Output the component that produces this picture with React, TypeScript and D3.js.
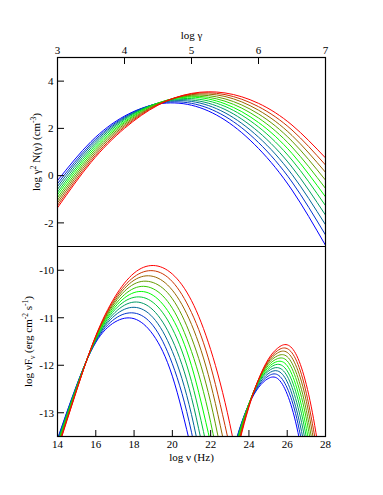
import React from "react";
import * as d3 from "d3";

const W = 383;
const H = 495;

const gammaTicks = [3, 4, 5, 6, 7];
const topYTicks = [4, 2, 0, -2];
const nuTicks = [14, 16, 18, 20, 22, 24, 26, 28];
const botYTicks = [-10, -11, -12, -13];

const curveColors = [
  "#0000ff", "#0033cc", "#006699", "#009966", "#00cc33", "#00ff00",
  "#33cc00", "#669900", "#996600", "#cc3300", "#ff0000",
];

// log gamma grid and log gamma^2 N(gamma) for each curve (blue -> red)
const logGamma = [3, 3.5, 4, 4.5, 5, 5.5, 6, 6.5, 7];
const electronSpectra = [
  [-0.21, 1.44, 2.52, 3.03, 2.98, 2.35, 1.15, -0.61, -2.95],
  [-0.34, 1.35, 2.48, 3.05, 3.06, 2.51, 1.4, -0.27, -2.51],
  [-0.46, 1.27, 2.44, 3.06, 3.14, 2.66, 1.63, 0.05, -2.08],
  [-0.58, 1.18, 2.4, 3.07, 3.2, 2.8, 1.85, 0.36, -1.67],
  [-0.7, 1.09, 2.35, 3.07, 3.26, 2.93, 2.06, 0.66, -1.27],
  [-0.81, 1.0, 2.29, 3.07, 3.32, 3.04, 2.25, 0.94, -0.9],
  [-0.93, 0.91, 2.24, 3.06, 3.36, 3.15, 2.44, 1.21, -0.54],
  [-1.04, 0.82, 2.18, 3.04, 3.4, 3.25, 2.61, 1.46, -0.19],
  [-1.15, 0.73, 2.12, 3.02, 3.43, 3.35, 2.77, 1.7, 0.14],
  [-1.26, 0.64, 2.06, 3.0, 3.46, 3.43, 2.92, 1.93, 0.45],
  [-1.36, 0.56, 2.0, 2.98, 3.48, 3.5, 3.06, 2.14, 0.75],
];

// synchrotron hump: log nu grid and log nuFnu
const synchNu = [14, 15, 16, 17, 18, 19, 20, 21, 22, 23, 24];
const synchSpectra = [
  [-13.55, -12.42, -11.52, -11.09, -11.02, -11.36, -12.23, -13.78],
  [-13.57, -12.43, -11.5, -11.02, -10.9, -11.17, -11.97, -13.41, -15.61],
  [-13.6, -12.44, -11.48, -10.95, -10.78, -11.0, -11.71, -13.04, -15.09],
  [-13.62, -12.45, -11.47, -10.89, -10.67, -10.84, -11.47, -12.68, -14.59],
  [-13.65, -12.46, -11.45, -10.83, -10.57, -10.68, -11.23, -12.34, -14.1],
  [-13.67, -12.48, -11.44, -10.78, -10.47, -10.53, -11.01, -12.01, -13.64],
  [-13.69, -12.49, -11.42, -10.73, -10.38, -10.39, -10.8, -11.71, -13.2, -15.37],
  [-13.72, -12.5, -11.41, -10.68, -10.29, -10.26, -10.6, -11.42, -12.78, -14.78],
  [-13.74, -12.51, -11.4, -10.64, -10.21, -10.13, -10.42, -11.14, -12.39, -14.23],
  [-13.77, -12.52, -11.39, -10.6, -10.14, -10.01, -10.24, -10.89, -12.02, -13.72],
  [-13.79, -12.53, -11.38, -10.56, -10.06, -9.9, -10.08, -10.64, -11.67, -13.23, -15.37],
];

// inverse Compton hump
const icNu = [23, 23.5, 24, 24.5, 25, 25.5, 26, 26.5, 27, 27.5, 28];
const icSpectra = [
  [-14.05, -13.35, -12.82, -12.47, -12.28, -12.28, -12.61, -13.3, -14.35],
  [-14.09, -13.37, -12.82, -12.44, -12.23, -12.2, -12.48, -13.12, -14.14],
  [-14.13, -13.38, -12.81, -12.41, -12.18, -12.12, -12.35, -12.96, -13.93, -15.27],
  [-14.17, -13.4, -12.81, -12.38, -12.13, -12.05, -12.23, -12.79, -13.72, -15.03],
  [-14.21, -13.43, -12.81, -12.36, -12.09, -11.98, -12.12, -12.63, -13.52, -14.79],
  [-14.26, -13.45, -12.81, -12.34, -12.05, -11.92, -12.01, -12.48, -13.33, -14.55],
  [-14.31, -13.48, -12.82, -12.33, -12.01, -11.86, -11.91, -12.33, -13.13, -14.31],
  [-14.37, -13.51, -12.83, -12.32, -11.97, -11.8, -11.82, -12.19, -12.95, -14.08],
  [-14.43, -13.55, -12.84, -12.31, -11.94, -11.74, -11.73, -12.05, -12.76, -13.86],
  [-14.49, -13.59, -12.86, -12.3, -11.91, -11.69, -11.65, -11.92, -12.59, -13.64],
  [-14.55, -13.63, -12.88, -12.3, -11.88, -11.64, -11.57, -11.8, -12.41, -13.42, -14.82],
];

const L = 57.5;
const R = 325.5;
const T = 57.5;
const M = 246.5;
const B = 436.5;
const TICK = 6.5;
const FONT = "'Liberation Serif', 'Times New Roman', serif";

export default function App() {
  const xTop = d3.scaleLinear().domain([3, 7]).range([L, R]);
  const yTop = d3.scaleLinear().domain([-3, 5]).range([M, T]);
  const xBot = d3.scaleLinear().domain([14, 28]).range([L, R]);
  const yBot = d3.scaleLinear().domain([-13.5, -9.5]).range([B, M]);

  const lineTop = d3
    .line<[number, number]>()
    .x((d) => xTop(d[0]))
    .y((d) => yTop(d[1]))
    .curve(d3.curveNatural);
  const lineBot = d3
    .line<[number, number]>()
    .x((d) => xBot(d[0]))
    .y((d) => yBot(d[1]))
    .curve(d3.curveNatural);

  const pts = (xs: number[], ys: number[]) =>
    ys.map((v, i) => [xs[i], v] as [number, number]);

  return (
    <svg
      width={W}
      height={H}
      style={{ position: "absolute", left: 0, top: 0, background: "#fff" }}
      fontFamily={FONT}
    >
      <defs>
        <clipPath id="clipTop">
          <rect x={L} y={T} width={R - L} height={M - T} />
        </clipPath>
        <clipPath id="clipBot">
          <rect x={L} y={M} width={R - L} height={B - M} />
        </clipPath>
      </defs>
      <rect x={0} y={0} width={W} height={H} fill="#fff" />

      <g clipPath="url(#clipTop)">
        {electronSpectra.map((s, i) => (
          <path
            key={"e" + i}
            d={lineTop(pts(logGamma, s)) || ""}
            fill="none"
            stroke={curveColors[i]}
            strokeWidth={1}
          />
        ))}
      </g>
      <g clipPath="url(#clipBot)">
        {synchSpectra.map((s, i) => (
          <path
            key={"s" + i}
            d={lineBot(pts(synchNu, s)) || ""}
            fill="none"
            stroke={curveColors[i]}
            strokeWidth={1}
          />
        ))}
        {icSpectra.map((s, i) => (
          <path
            key={"c" + i}
            d={lineBot(pts(icNu, s)) || ""}
            fill="none"
            stroke={curveColors[i]}
            strokeWidth={1}
          />
        ))}
      </g>

      {/* frames */}
      <rect x={L} y={T} width={R - L} height={B - T} fill="none" stroke="#000" strokeWidth={1.2} />
      <line x1={L} x2={R} y1={M} y2={M} stroke="#000" strokeWidth={1.2} />

      {/* top axis */}
      {gammaTicks.map((t) => (
        <g key={"gt" + t}>
          <line x1={xTop(t)} x2={xTop(t)} y1={T} y2={T + TICK} stroke="#000" strokeWidth={1} />
          <text x={xTop(t)} y={T - 4} fontSize={11} textAnchor="middle" fill="#000">
            {t}
          </text>
        </g>
      ))}
      <text x={(L + R) / 2} y={39} fontSize={11} textAnchor="middle" fill="#000">
        log γ
      </text>

      {/* top y axis */}
      {topYTicks.map((t) => (
        <g key={"ty" + t}>
          <line x1={L} x2={L + TICK} y1={yTop(t)} y2={yTop(t)} stroke="#000" strokeWidth={1} />
          <text x={L - 4} y={yTop(t)} dy="0.35em" fontSize={11} textAnchor="end" fill="#000">
            {t}
          </text>
        </g>
      ))}
      <text
        transform={`translate(40,${(T + M) / 2}) rotate(-90)`}
        fontSize={11}
        textAnchor="middle"
        fill="#000"
      >
        log γ<tspan dy={-4} fontSize={7.5}>2</tspan>
        <tspan dy={4}> N(γ) (cm</tspan>
        <tspan dy={-4} fontSize={7.5}>-3</tspan>
        <tspan dy={4}>)</tspan>
      </text>

      {/* bottom x axis */}
      {nuTicks.map((t) => (
        <g key={"nx" + t}>
          <line x1={xBot(t)} x2={xBot(t)} y1={B} y2={B - TICK} stroke="#000" strokeWidth={1} />
          <text x={xBot(t)} y={B + 11.5} fontSize={11} textAnchor="middle" fill="#000">
            {t}
          </text>
        </g>
      ))}
      <text x={(L + R) / 2} y={460.5} fontSize={11} textAnchor="middle" fill="#000">
        log ν (Hz)
      </text>

      {/* bottom y axis */}
      {botYTicks.map((t) => (
        <g key={"by" + t}>
          <line x1={L} x2={L + TICK} y1={yBot(t)} y2={yBot(t)} stroke="#000" strokeWidth={1} />
          <text x={L - 3.5} y={yBot(t)} dy="0.35em" fontSize={11} textAnchor="end" fill="#000">
            {t}
          </text>
        </g>
      ))}
      <text
        transform={`translate(32,${(M + B) / 2}) rotate(-90)`}
        fontSize={11}
        textAnchor="middle"
        fill="#000"
      >
        log νF<tspan dy={3} fontSize={7.5}>ν</tspan>
        <tspan dy={-3}> (erg cm</tspan>
        <tspan dy={-4} fontSize={7.5}>-2</tspan>
        <tspan dy={4}> s</tspan>
        <tspan dy={-4} fontSize={7.5}>-1</tspan>
        <tspan dy={4}>)</tspan>
      </text>
    </svg>
  );
}
